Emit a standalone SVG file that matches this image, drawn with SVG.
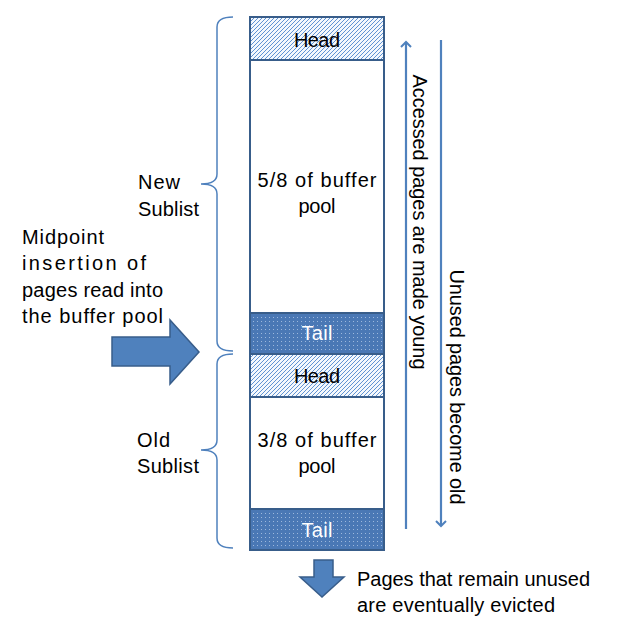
<svg xmlns="http://www.w3.org/2000/svg" width="624" height="637" viewBox="0 0 624 637">
<defs>
<pattern id="hatch" patternUnits="userSpaceOnUse" width="4" height="4">
<rect width="4" height="4" fill="#F4F8FD"/>
<path d="M-1,1 L1,-1 M0,4 L4,0 M3,5 L5,3" stroke="#3A78C8" stroke-width="0.8"/>
</pattern>
<pattern id="dots" patternUnits="userSpaceOnUse" width="4" height="4">
<rect width="4" height="4" fill="#4A78B5"/>
<rect x="1" y="1" width="1" height="1" fill="#9DB8DC"/>
</pattern>
<marker id="open" markerWidth="12" markerHeight="12" refX="6" refY="6" orient="auto" markerUnits="userSpaceOnUse">
<path d="M1,1 L6,6 L1,11" fill="none" stroke="#4F81BD" stroke-width="2"/>
</marker>
<style>
text{font-family:"Liberation Sans","DejaVu Sans",sans-serif;font-size:20px;fill:#000}
.c{text-anchor:middle}
.w{fill:#fff}
.box{stroke:#385D8A;stroke-width:2}
.brace{fill:none;stroke:#4F81BD;stroke-width:1.5}
.conn{stroke:#4F81BD;stroke-width:2.2;fill:none}
.big{fill:#4F81BD;stroke:#385D8A;stroke-width:1.5}
</style>
</defs>
<g id="new-head"><rect class="box" x="250" y="17" width="134" height="43" fill="url(#hatch)"/><text class="c" x="317" y="47" textLength="46">Head</text></g>
<g id="new-body"><rect class="box" x="250" y="60" width="134" height="253" fill="#fff"/><text class="c" x="317" y="187" textLength="119">5/8 of buffer</text><text class="c" x="317" y="213" textLength="37">pool</text></g>
<g id="new-tail"><rect class="box" x="250" y="313" width="134" height="41" fill="url(#dots)"/><text class="c w" x="317" y="340" textLength="31">Tail</text></g>
<g id="old-head"><rect class="box" x="250" y="354" width="134" height="43" fill="url(#hatch)"/><text class="c" x="317" y="383" textLength="46">Head</text></g>
<g id="old-body"><rect class="box" x="250" y="397" width="134" height="112" fill="#fff"/><text class="c" x="317" y="447" textLength="119">3/8 of buffer</text><text class="c" x="317" y="473" textLength="37">pool</text></g>
<g id="old-tail"><rect class="box" x="250" y="509" width="134" height="41" fill="url(#dots)"/><text class="c w" x="317" y="537" textLength="31">Tail</text></g>
<g id="new-brace"><path class="brace" d="M233,17 Q217,17 217,27 L217,174 Q217,184 201,184 Q217,184 217,194 L217,341 Q217,351 233,351"/><text x="138" y="189" textLength="42">New</text><text x="138" y="216" textLength="61">Sublist</text></g>
<g id="old-brace"><path class="brace" d="M233,354 Q217,354 217,364 L217,440 Q217,450 201,450 Q217,450 217,460 L217,538 Q217,548 233,548"/><text x="137" y="447" textLength="33">Old</text><text x="137" y="473" textLength="62">Sublist</text></g>
<g id="midpoint"><text x="22" y="244" textLength="82">Midpoint</text><text x="22" y="270" textLength="124">insertion of</text><text x="22" y="297" textLength="141">pages read into</text><text x="22" y="323" textLength="141">the buffer pool</text>
<path class="big" d="M112,337 L170,337 L170,320 L199,352 L170,384 L170,366 L112,366 Z"/></g>
<g id="evict"><path class="big" d="M314,560 L333,560 L333,577 L344,577 L322,597 L300,577 L314,577 Z"/><text x="357" y="586" textLength="233">Pages that remain unused</text><text x="357" y="612" textLength="198">are eventually evicted</text></g>
<g id="connectors">
<line class="conn" x1="406" y1="529" x2="406" y2="42" marker-end="url(#open)"/>
<line class="conn" x1="441" y1="40" x2="441" y2="526" marker-end="url(#open)"/>
</g>
<g id="labels">
<text class="c" transform="translate(413,222) rotate(90)" textLength="295">Accessed pages are made young</text>
<text class="c" transform="translate(450,387) rotate(90)" textLength="235">Unused pages become old</text>
</g>
</svg>
